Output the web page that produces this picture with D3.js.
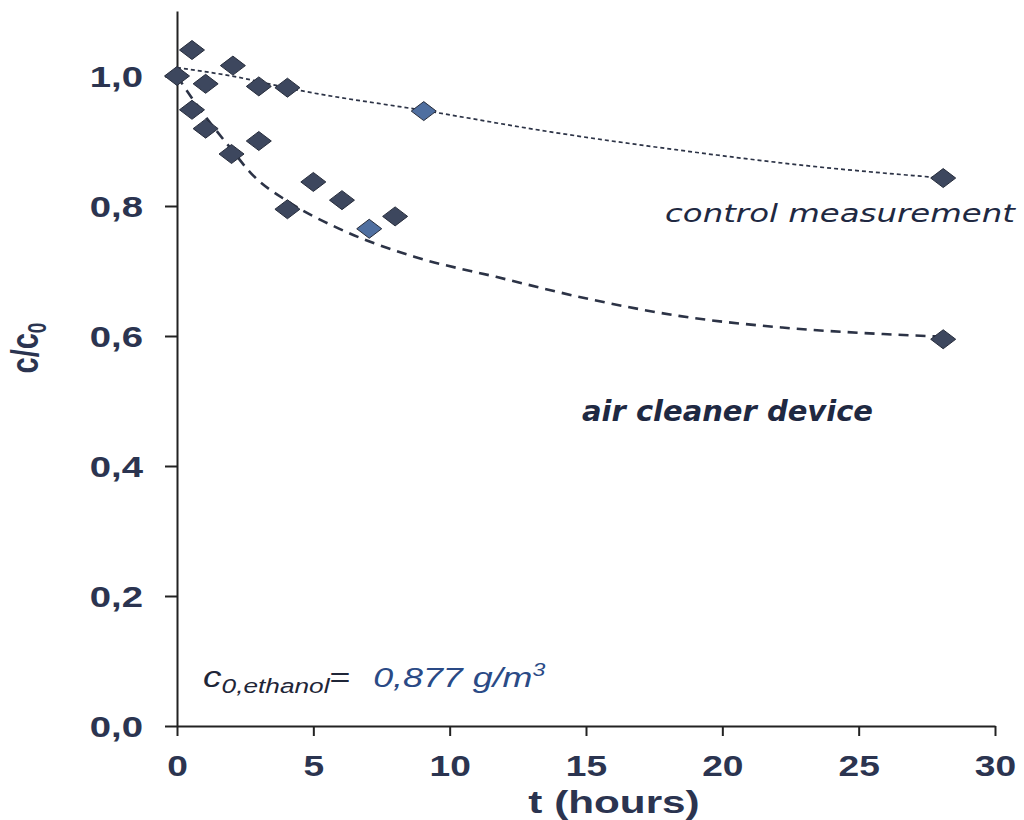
<!DOCTYPE html>
<html><head><meta charset="utf-8">
<script src="https://cdn.jsdelivr.net/npm/d3@7/dist/d3.min.js"></script>
<style>body{margin:0;background:#fff}</style>
</head><body>
<svg id="c" width="1024" height="820"></svg>
<script>
// Data
const controlT = [0, 0.55, 1.05, 2.05, 3.0, 4.05, 9.05, 28.1];
const controlY = [1.0, 1.04, 0.988, 1.016, 0.984, 0.982, 0.946, 0.843];
const airT = [0.55, 1.05, 2.0, 3.0, 4.05, 5.0, 6.05, 7.05, 8.0, 28.1];
const airY = [0.948, 0.919, 0.88, 0.90, 0.795, 0.837, 0.809, 0.765, 0.784, 0.595];
const controlLight = [false, false, false, false, false, false, true, false];
const airLight = [false, false, false, false, false, false, false, true, false, false];
// trend lines
const controlFitT = [0, 2, 4.6, 9.05, 13.7, 18.4, 23.1, 28.1];
const controlFitY = [1.013, 1.0, 0.977, 0.947, 0.914, 0.886, 0.862, 0.843];
const airFitT = [0, 0.5, 1, 2, 2.7, 4.1, 5.9, 8.7, 11.7, 15.1, 18.4, 22.2, 25.9, 28.1];
const airFitY = [1.0, 0.969, 0.94, 0.887, 0.851, 0.806, 0.766, 0.722, 0.691, 0.657, 0.631, 0.613, 0.603, 0.599];
const xTicks = [0, 5, 10, 15, 20, 25, 30];
const yTicks = [0, 0.2, 0.4, 0.6, 0.8, 1.0];

const svg = d3.select("#c");
const x = d3.scaleLinear().domain([0, 30]).range([177, 995]);
const y = d3.scaleLinear().domain([0, 1.1]).range([726, 11]);
const ink = "#2b3450";
const fmt = d => d3.format(".1f")(d).replace(".", ",");
const SANS = "Liberation Sans, Arial, sans-serif";

function stretch(sel, k) {
  sel.each(function () {
    const w = this.getComputedTextLength();
    this.setAttribute("textLength", w * k);
    this.setAttribute("lengthAdjust", "spacingAndGlyphs");
  });
}

// axes
const xAxis = svg.append("g").attr("transform", "translate(0,726)")
  .call(d3.axisBottom(x).tickValues(xTicks).tickSize(10).tickSizeOuter(0));
const yAxis = svg.append("g").attr("transform", "translate(177,0)")
  .call(d3.axisLeft(y).tickValues(yTicks).tickFormat(fmt).tickSize(12).tickSizeOuter(0));
[xAxis, yAxis].forEach(g => {
  g.select(".domain").attr("stroke", "#222").attr("stroke-width", 2);
  g.selectAll(".tick line").attr("stroke", "#222").attr("stroke-width", 2);
  g.selectAll("text").attr("fill", ink).style("font-family", SANS)
    .style("font-weight", "bold").style("font-size", "29px");
});
xAxis.selectAll("text").attr("y", 50).attr("dy", 0);
yAxis.selectAll("text").attr("x", -34).attr("dy", "0.35em");
stretch(xAxis.selectAll("text"), 1.28);
stretch(yAxis.selectAll("text"), 1.32);

// axis titles
const xt = svg.append("text").attr("x", 614).attr("y", 813).attr("text-anchor", "middle")
  .attr("fill", ink).style("font-family", SANS)
  .style("font-weight", "bold").style("font-size", "32px").text("t (hours)");
stretch(xt, 1.32);
const yl = svg.append("text").attr("transform", "translate(38,348) rotate(-90) scale(1,1.33)")
  .attr("text-anchor", "middle")
  .attr("fill", ink).style("font-family", SANS)
  .style("font-weight", "bold").style("font-size", "29px");
yl.append("tspan").text("c/c");
yl.append("tspan").attr("dy", 6).style("font-size", "19px").text("0");

// trend lines
const line = d3.line().x(d => x(d[0])).y(d => y(d[1])).curve(d3.curveMonotoneX);
svg.append("path").datum(controlFitT.map((t, i) => [t, controlFitY[i]]))
  .attr("d", line).attr("fill", "none").attr("stroke", "#2c3346")
  .attr("stroke-width", 1.7).attr("stroke-dasharray", "4,3");
svg.append("path").datum(airFitT.map((t, i) => [t, airFitY[i]]))
  .attr("d", line).attr("fill", "none").attr("stroke", "#2c3346")
  .attr("stroke-width", 2.6).attr("stroke-dasharray", "10,7");

// markers
const diamond = "M0,-9.5L12.5,0L0,9.5L-12.5,0Z";
function drawPts(ts, ys, light) {
  svg.append("g").selectAll("path").data(ts.map((t, i) => [t, ys[i], light[i]])).join("path")
    .attr("d", diamond)
    .attr("transform", d => `translate(${x(d[0])},${y(d[1])})`)
    .attr("fill", d => d[2] ? "#4f6fa0" : "#3d475e")
    .attr("stroke", "#272d3c").attr("stroke-width", 1);
}
drawPts(airT, airY, airLight);
drawPts(controlT, controlY, controlLight);

// labels
const cl = svg.append("text").attr("x", 665).attr("y", 222)
  .attr("fill", "#1f2942").style("font-family", "DejaVu Sans, sans-serif")
  .style("font-style", "italic").style("font-size", "25px").text("control measurement");
cl.attr("textLength", 350).attr("lengthAdjust", "spacingAndGlyphs");
const al = svg.append("text").attr("x", 582).attr("y", 421)
  .attr("fill", "#1f2942").style("font-family", "DejaVu Sans, sans-serif")
  .style("font-style", "italic").style("font-weight", "bold").style("font-size", "28px").text("air cleaner device");
al.attr("textLength", 291).attr("lengthAdjust", "spacingAndGlyphs");

// annotation
const an = svg.append("g").attr("transform", "translate(203,687) scale(1.28,1)")
  .append("text").style("font-family", SANS).style("font-style", "italic");
an.append("tspan").attr("fill", "#1f2638").style("font-size", "29px").text("c");
an.append("tspan").attr("fill", "#1f2638").attr("dy", 6).style("font-size", "20.5px").text("0,ethanol");
an.append("tspan").attr("fill", "#1f2638").attr("dy", -6).style("font-size", "28px").style("font-style", "normal").text("=");
an.append("tspan").attr("fill", "#2a4a86").attr("dx", 10).style("font-size", "28px").text(" 0,877 g/m");
an.append("tspan").attr("fill", "#2a4a86").attr("dy", -11).style("font-size", "18px").text("3");
</script>
</body></html>
